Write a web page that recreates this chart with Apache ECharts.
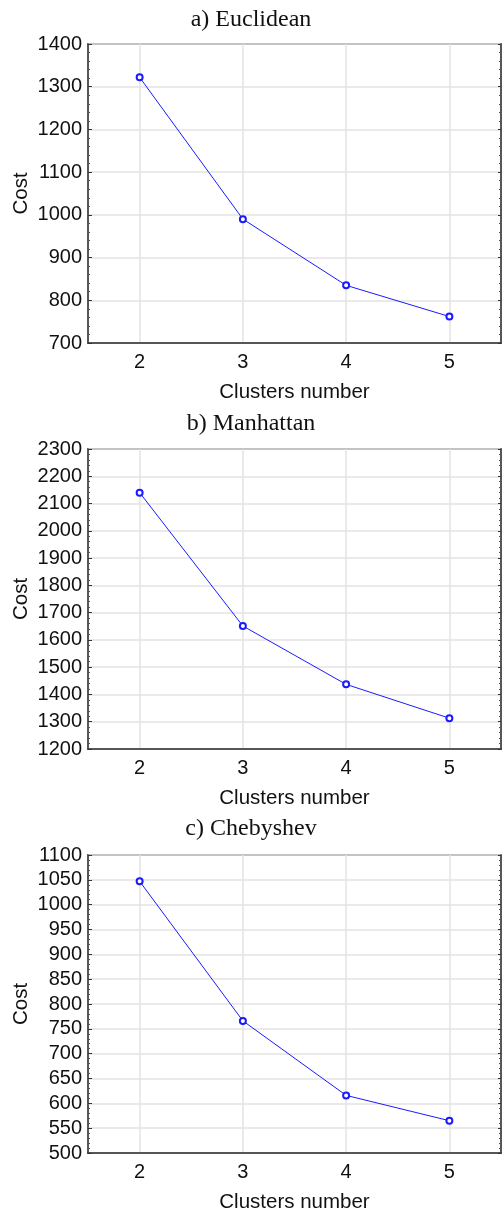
<!DOCTYPE html>
<html><head><meta charset="utf-8">
<script src="https://cdn.jsdelivr.net/npm/echarts@6/dist/echarts.min.js"></script>
<style>html,body{margin:0;padding:0;background:#fff}#c{width:502px;height:1214px}</style>
</head><body><div id="c"></div>
<script>
const clusters = [2, 3, 4, 5];
const euclidean = [1322, 990, 835, 762];
const manhattan = [2140, 1651, 1437, 1313];
const chebyshev = [1047, 766, 616, 565];
const titles = ['a) Euclidean', 'b) Manhattan', 'c) Chebyshev'];
const yMins = [700, 1200, 500];
const yMaxs = [1400, 2300, 1100];
const yIntervals = [100, 100, 50];
const seriesData = [euclidean, manhattan, chebyshev];

const grids = [
  {left: 88, top: 44, width: 413, height: 299},
  {left: 88, top: 449, width: 413, height: 300},
  {left: 88, top: 855, width: 413, height: 298}
];
const titleTops = [3, 407, 812];
const sans = 'Liberation Sans, Arial, sans-serif';
const axisCol = '#333';

const option = {
  animation: false,
  backgroundColor: '#fff',
  title: titles.map((t, i) => ({
    text: t, left: 'center', top: titleTops[i],
    textStyle: {fontFamily: 'Liberation Serif, Times New Roman, serif', fontWeight: 'normal', fontSize: 24, color: '#111'}
  })),
  grid: grids.map(g => Object.assign({show: true, borderColor: axisCol, borderWidth: 1.5, containLabel: false, outerBoundsMode: 'none'}, g)),
  xAxis: grids.map((g, i) => ({
    type: 'value', gridIndex: i, min: 1.5, max: 5.5, splitNumber: 4,
    name: 'Clusters number', nameLocation: 'middle', nameGap: 39,
    nameTextStyle: {fontFamily: sans, fontSize: 20.5, color: '#111'},
    axisLine: {show: true, onZero: false, lineStyle: {color: axisCol, width: 1.5}},
    axisTick: {show: false},
    axisLabel: {fontFamily: sans, fontSize: 20, color: '#111', margin: 9,
      showMinLabel: false, showMaxLabel: false,
      formatter: v => (Number.isInteger(v) ? String(v) : '')},
    splitLine: {show: true, lineStyle: {color: '#e3e3e3', width: 1.5}}
  })),
  yAxis: [].concat(
    grids.map((g, i) => ({
      type: 'value', gridIndex: i, min: yMins[i], max: yMaxs[i], interval: yIntervals[i],
      name: 'Cost', nameLocation: 'middle', nameGap: 56, nameMoveOverlap: false,
      nameTextStyle: {fontFamily: sans, fontSize: 20.5, color: '#111'},
      axisLine: {show: true, lineStyle: {color: axisCol, width: 1.5}},
      axisTick: {show: true, inside: true, length: 4, lineStyle: {color: axisCol}},
      minorTick: {show: true, splitNumber: 5, length: 2, lineStyle: {color: '#555'}},
      axisLabel: {fontFamily: sans, fontSize: 20, color: '#111', margin: 6, formatter: v => String(v)},
      splitLine: {show: true, lineStyle: {color: '#e3e3e3', width: 1.5}}
    })),
    grids.map((g, i) => ({
      type: 'value', gridIndex: i, position: 'right', min: yMins[i], max: yMaxs[i], interval: yIntervals[i],
      axisLine: {show: true, lineStyle: {color: axisCol, width: 1.5}},
      axisTick: {show: true, inside: true, length: 3, lineStyle: {color: axisCol}},
      minorTick: {show: true, splitNumber: 5, length: 2, lineStyle: {color: '#555'}},
      axisLabel: {show: false},
      splitLine: {show: false}
    }))
  ),
  series: seriesData.map((d, i) => ({
    type: 'line', xAxisIndex: i, yAxisIndex: i,
    data: clusters.map((c, j) => [c, d[j]]),
    symbol: 'emptyCircle', symbolSize: 6,
    lineStyle: {color: '#1a1aff', width: 1},
    itemStyle: {color: '#1a1aff', borderWidth: 1}
  }))
};
echarts.init(document.getElementById('c'), null, {renderer: 'canvas'}).setOption(option);
</script>
</body></html>
